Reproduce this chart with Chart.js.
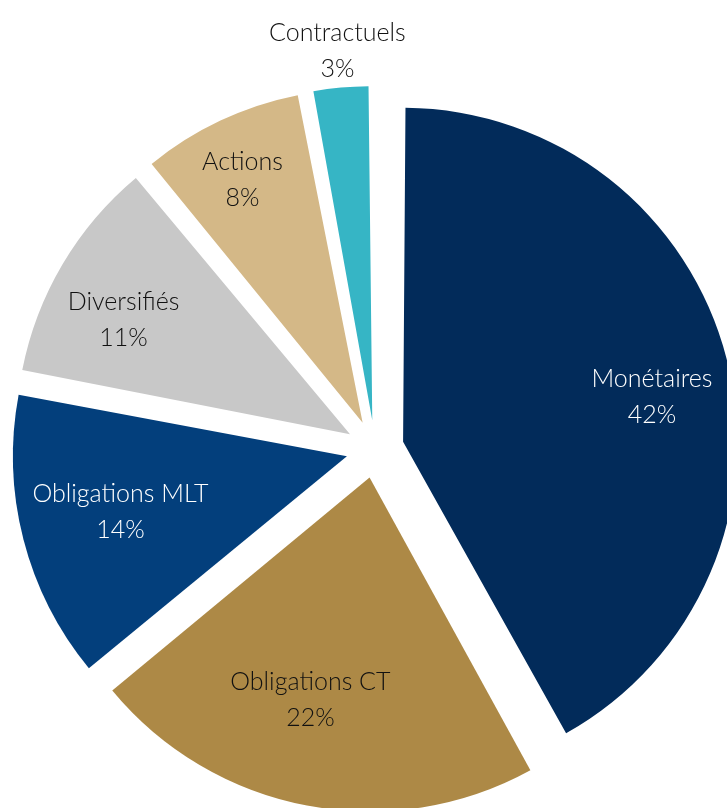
<!DOCTYPE html>
<html>
<head>
<meta charset="utf-8">
<script src="https://cdn.jsdelivr.net/npm/chart.js@4/dist/chart.umd.min.js"></script>
<style>
  html,body{margin:0;padding:0;background:#fff;}
  #wrap{position:relative;width:727px;height:808px;overflow:hidden;}
  #pie{position:absolute;left:0;top:0;}
</style>
</head>
<body>
<div id="wrap"><canvas id="pie" width="750" height="898"></canvas></div>
<script>
const labels = ['Monétaires','Obligations CT','Obligations MLT','Diversifiés','Actions','Contractuels'];
const values = [42, 22, 14, 11, 8, 3];
const colors = ['#022b5a','#ad8946','#033f7c','#c8c8c8','#d4b887','#36b5c5'];
const textColors = ['#fff','#111','#fff','#111','#111','#111'];
// label distance as a share of the radius, and small nudges in px
const labelFrac = [0.757, 0.69, 0.70, 0.76, 0.81, 1.11];
const labelNudge = [[4,18],[-16,-4],[0,-2],[-8,15],[-5,2],[0,0]];

const GAP = 29;    // how far each slice is pulled out
const RADIUS = 334;

// chart.js grows an offset arc's radius by offset/4*(1-sin(circ)); undo that so all slices keep one radius
const evenRadius = {
  id:'evenRadius',
  beforeDatasetsDraw(chart){
    chart.getDatasetMeta(0).data.forEach(a=>{
      const circ = a.endAngle - a.startAngle;
      const fix = 1 - Math.sin(Math.min(Math.PI, circ));
      a.outerRadius = RADIUS - GAP*fix;
    });
  }
};

const labelPlugin = {
  id:'sliceLabels',
  afterDatasetsDraw(chart){
    const {ctx} = chart;
    const arcs = chart.getDatasetMeta(0).data;
    ctx.save();
    ctx.font = "300 25px Lato, 'Open Sans', sans-serif";
    ctx.textAlign = 'center';
    ctx.textBaseline = 'middle';
    arcs.forEach((a,i)=>{
      const mid = (a.startAngle + a.endAngle)/2;
      const vx = a.x + Math.cos(mid)*GAP;
      const vy = a.y + Math.sin(mid)*GAP;
      const r = RADIUS*labelFrac[i];
      const x = vx + Math.cos(mid)*r + labelNudge[i][0];
      const y = vy + Math.sin(mid)*r + labelNudge[i][1];
      ctx.fillStyle = textColors[i];
      ctx.fillText(labels[i], x, y-18);
      ctx.fillText(values[i]+'%', x, y+18);
    });
    ctx.restore();
  }
};

new Chart(document.getElementById('pie'), {
  type:'pie',
  data:{labels, datasets:[{
    data:values,
    backgroundColor:colors,
    borderWidth:0,
    offset:GAP*4
  }]},
  options:{
    responsive:false,
    animation:false,
    devicePixelRatio:1,
    radius:RADIUS,
    layout:{padding:0},
    plugins:{legend:{display:false},tooltip:{enabled:false}}
  },
  plugins:[evenRadius, labelPlugin]
});
</script>
</body>
</html>
